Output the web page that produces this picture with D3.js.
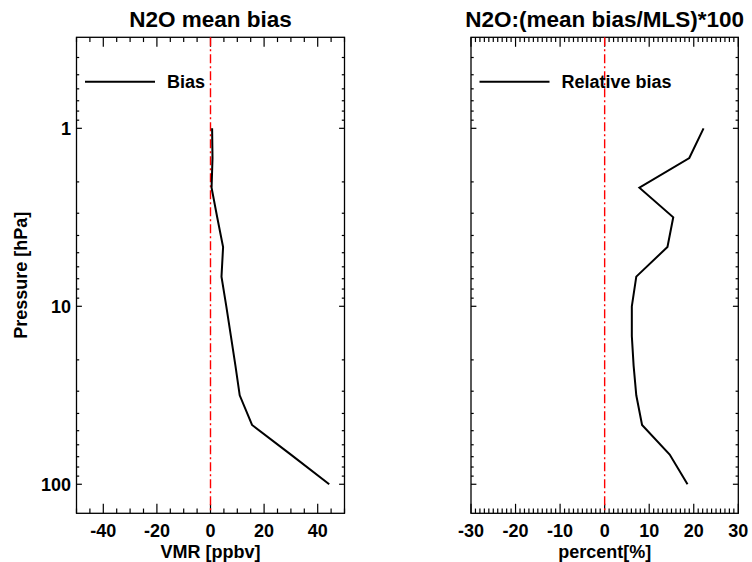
<!DOCTYPE html>
<html>
<head>
<meta charset="utf-8">
<script src="https://cdn.jsdelivr.net/npm/d3@7"></script>
<style>
  body { margin: 0; background: #fff; }
  text { font-family: "Liberation Sans", Arial, sans-serif; font-weight: bold; fill: #000; }
</style>
</head>
<body>
<div id="chart"></div>
<script>
// pressure levels (hPa) shared by both panels
const pressure = [1, 1.468, 2.154, 3.162, 4.642, 6.813, 10, 14.68, 21.54, 31.62, 46.42, 68.13, 100];
// mean bias in ppbv
const biasVMR = [0.6, 0.75, 0.4, 2.5, 4.7, 4.1, 5.9, 7.6, 9.3, 10.9, 15.5, 30, 44.3];
// relative bias in percent
const biasPct = [22.2, 19.0, 7.8, 15.4, 14.1, 7.1, 6.1, 6.1, 6.5, 7.1, 8.4, 14.6, 18.6];

const pressureTicks = [1, 10, 100];
const vmrTicks = [-40, -20, 0, 20, 40];
const pctTicks = [-30, -20, -10, 0, 10, 20, 30];

const width = 752, height = 562;
const plotTop = 37.3, plotBottom = 513.3;

const svg = d3.select("#chart").append("svg")
    .attr("width", width)
    .attr("height", height);

svg.append("rect").attr("width", width).attr("height", height).attr("fill", "#fff");

const y = d3.scaleLog().domain([0.308, 145.6]).range([plotTop, plotBottom]);

// minor log ticks
const yMinor = [];
[0.1, 1, 10, 100].forEach(d => {
    for (let k = 2; k <= 9; k++) {
        const v = d * k;
        if (v > y.domain()[0] && v < y.domain()[1]) yMinor.push(v);
    }
});

const panels = [
    {
        left: 76.5, right: 344.5, domain: [-50, 50],
        major: vmrTicks, minorStep: 5,
        values: biasVMR, title: "N2O mean bias", xlabel: "VMR [ppbv]",
        legend: "Bias", yLabels: true
    },
    {
        left: 471, right: 738.3, domain: [-30, 30],
        major: pctTicks, minorStep: 1,
        values: biasPct, title: "N2O:(mean bias/MLS)*100", xlabel: "percent[%]",
        legend: "Relative bias", yLabels: false
    }
];

panels.forEach(p => {
    const x = d3.scaleLinear().domain(p.domain).range([p.left, p.right]);
    const g = svg.append("g");
    const xLen = 9.5, yLen = 5.4; // major tick lengths (minor are half)

    // x ticks, top and bottom
    const xMinor = d3.range(p.domain[0], p.domain[1] + 0.001, p.minorStep)
        .filter(v => !p.major.includes(v));
    const xt = [...p.major.map(v => [v, xLen]), ...xMinor.map(v => [v, xLen / 2])];
    xt.forEach(([v, len]) => {
        g.append("line").attr("x1", x(v)).attr("x2", x(v))
            .attr("y1", plotBottom).attr("y2", plotBottom - len)
            .attr("stroke", "#000").attr("stroke-width", 1.2);
        g.append("line").attr("x1", x(v)).attr("x2", x(v))
            .attr("y1", plotTop).attr("y2", plotTop + len)
            .attr("stroke", "#000").attr("stroke-width", 1.2);
    });

    // y ticks, left and right
    const yt = [...pressureTicks.map(v => [v, yLen]), ...yMinor.map(v => [v, yLen / 2])];
    yt.forEach(([v, len]) => {
        g.append("line").attr("x1", p.left).attr("x2", p.left + len)
            .attr("y1", y(v)).attr("y2", y(v))
            .attr("stroke", "#000").attr("stroke-width", 1.2);
        g.append("line").attr("x1", p.right).attr("x2", p.right - len)
            .attr("y1", y(v)).attr("y2", y(v))
            .attr("stroke", "#000").attr("stroke-width", 1.2);
    });

    // frame
    g.append("rect")
        .attr("x", p.left).attr("y", plotTop)
        .attr("width", p.right - p.left).attr("height", plotBottom - plotTop)
        .attr("fill", "none").attr("stroke", "#000").attr("stroke-width", 1.3);

    // zero line
    g.append("line")
        .attr("x1", x(0)).attr("x2", x(0))
        .attr("y1", plotTop).attr("y2", plotBottom)
        .attr("stroke", "#ff0000").attr("stroke-width", 1.4)
        .attr("stroke-dasharray", "9,3,2,3");

    // profile
    const line = d3.line()
        .x((d, i) => x(d))
        .y((d, i) => y(pressure[i]));
    g.append("path")
        .datum(p.values)
        .attr("d", line)
        .attr("fill", "none")
        .attr("stroke", "#000")
        .attr("stroke-width", 2);

    // x tick labels
    p.major.forEach(v => {
        g.append("text")
            .attr("x", x(v)).attr("y", 536.5)
            .attr("text-anchor", "middle")
            .style("font-size", "18px")
            .text(v);
    });

    // axis title
    g.append("text")
        .attr("x", (p.left + p.right) / 2).attr("y", 557.5)
        .attr("text-anchor", "middle")
        .style("font-size", "18px")
        .text(p.xlabel);

    // panel title
    g.append("text")
        .attr("x", (p.left + p.right) / 2).attr("y", 27)
        .attr("text-anchor", "middle")
        .style("font-size", "22.5px")
        .text(p.title);

    // legend
    g.append("line")
        .attr("x1", p.left + 8.5).attr("x2", p.left + 78.5)
        .attr("y1", 81.7).attr("y2", 81.7)
        .attr("stroke", "#000").attr("stroke-width", 2);
    g.append("text")
        .attr("x", p.left + 90.5).attr("y", 88)
        .style("font-size", "18px")
        .text(p.legend);

    if (p.yLabels) {
        pressureTicks.forEach(v => {
            g.append("text")
                .attr("x", 71).attr("y", y(v))
                .attr("dy", "0.36em")
                .attr("text-anchor", "end")
                .style("font-size", "18px")
                .text(v);
        });
        g.append("text")
            .attr("transform", `translate(27,${(plotTop + plotBottom) / 2}) rotate(-90)`)
            .attr("text-anchor", "middle")
            .style("font-size", "18px")
            .text("Pressure [hPa]");
    }
});
</script>
</body>
</html>
